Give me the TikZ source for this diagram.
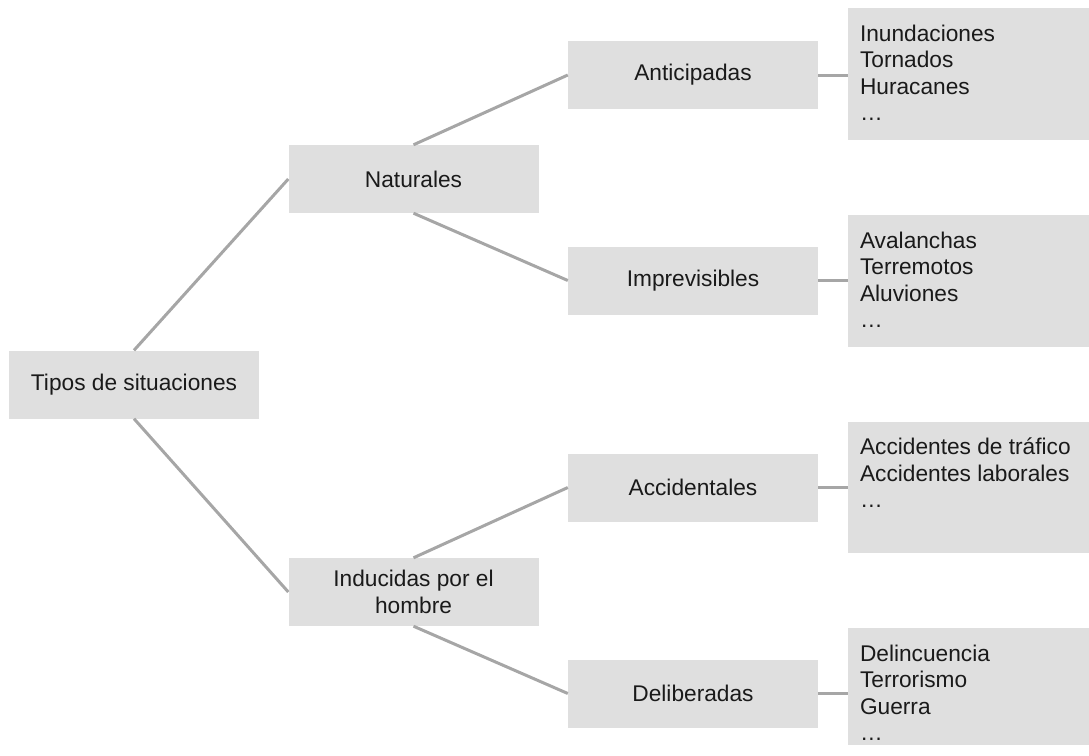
\documentclass[tikz,border=0pt]{standalone}
\usepackage{fontspec}
\setmainfont{Liberation Sans}
\usepackage{tikz}
\usetikzlibrary{positioning}
\definecolor{boxgray}{HTML}{DFDFDF}
\definecolor{linegray}{HTML}{A6A6A6}
\definecolor{txt}{HTML}{1A1A1A}
\tikzset{
    catbox/.style={rectangle, fill=boxgray, minimum width=250pt, minimum height=68pt, inner sep=0pt, align=center, text=txt},
    listbox/.style={rectangle, fill=boxgray, minimum width=241pt, inner sep=0pt},
    listtext/.style={anchor=north west, inner sep=0pt, align=left, text=txt},
    branch/.style={draw=linegray, line width=3pt},
}

\begin{document}
\begin{tikzpicture}[x=1pt, y=-1pt, font=\fontsize{22.7}{26.5}\selectfont]
                 \useasboundingbox (0,0) rectangle (1089,755);

                 \node[catbox] (tipos) at (134,384.5) {Tipos de situaciones};
                 \node[catbox] (nat) at (413.5,179) {Naturales};
                 \node[catbox] (ind) at (413.5,592) {Inducidas por el\\hombre};

                 \node[catbox] (ant) at (693,75) {Anticipadas};
                 \node[catbox] (imp) at (693,280.5) {Imprevisibles};
                 \node[catbox] (acc) at (693,487.5) {Accidentales};
                 \node[catbox] (del) at (693,693.5) {Deliberadas};

                 \node[listbox, minimum height=132pt] (l1) at (968.5,74) {};
                 \node[listbox, minimum height=132pt] (l2) at (968.5,281) {};
                 \node[listbox, minimum height=131pt] (l3) at (968.5,487.5) {};
                 \node[listbox, minimum height=117pt] (l4) at (968.5,686.5) {};

                 \node[listtext, below right=17pt and 12pt of l1.north west] (t1) {Inundaciones\\Tornados\\Huracanes\\\dots};
                 \node[listtext, below right=17pt and 12pt of l2.north west] (t2) {Avalanchas\\Terremotos\\Aluviones\\\dots};
                 \node[listtext, below right=16pt and 12pt of l3.north west] (t3) {Accidentes de tráfico\\Accidentes laborales\\\dots};
                 \node[listtext, below right=17pt and 12pt of l4.north west] (t4) {Delincuencia\\Terrorismo\\Guerra\\\dots};

                 \draw[branch](tipos.north)--(nat.west);
                 \draw[branch](tipos.south)--(ind.west);

                 \draw[branch](nat.north)--(ant.west);
                 \draw[branch](nat.south)--(imp.west);
                 \draw[branch](ind.north)--(acc.west);
                 \draw[branch](ind.south)--(del.west);

                 \draw[branch](ant.east)--(ant.east -| l1.west);
                 \draw[branch](imp.east)--(imp.east -| l2.west);
                 \draw[branch](acc.east)--(acc.east -| l3.west);
                 \draw[branch](del.east)--(del.east -| l4.west);
             \end{tikzpicture}
\end{document}
